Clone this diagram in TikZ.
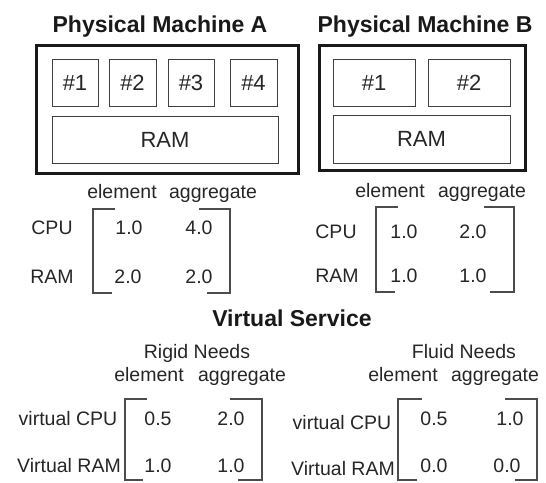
\documentclass[tikz,border=0pt]{standalone}
\usepackage{fontspec}
\setmainfont{Liberation Sans}
\begin{document}
\begin{tikzpicture}[x=1pt,y=-1pt,
  title/.style={font=\fontsize{23}{27}\selectfont\bfseries, anchor=base, inner sep=0pt, text=black!90},
  lbl/.style={font=\fontsize{19.5}{23}\selectfont, anchor=base, inner sep=0pt, text=black!85},
  machine/.style={draw=black!90, line width=3pt, inner sep=0pt},
  cell/.style={draw=black!75, line width=1pt, inner sep=0pt, font=\fontsize{22}{26}\selectfont, text=black!85},
  brk/.style={draw=black!70, line width=1.2pt}]
\useasboundingbox (0,0) rectangle (546,482);

% Physical Machine A
\node[title] (tA) at (160,32) {Physical Machine A};
\node[machine, minimum width=262pt, minimum height=128pt] (boxA) at (167,109) {};
\node[cell, minimum width=46pt, minimum height=47pt] (a1) at (75,82.5) {\#1};
\node[cell, minimum width=47pt, minimum height=47pt] (a2) at (132.5,82.5) {\#2};
\node[cell, minimum width=46pt, minimum height=47pt] (a3) at (191,82.5) {\#3};
\node[cell, minimum width=47pt, minimum height=47pt] (a4) at (253.5,82.5) {\#4};
\node[cell, minimum width=226pt, minimum height=47pt] (aram) at (165,139.5) {RAM};

% Physical Machine B
\node[title] (tB) at (425,32) {Physical Machine B};
\node[machine, minimum width=206pt, minimum height=125pt] (boxB) at (422,107.5) {};
\node[cell, minimum width=82pt, minimum height=47pt] (b1) at (374,82.5) {\#1};
\node[cell, minimum width=82pt, minimum height=47pt] (b2) at (469,82.5) {\#2};
\node[cell, minimum width=177pt, minimum height=48pt] (bram) at (421.5,139) {RAM};

% Matrix A
\node[lbl] (mAel) at (122,198) {element};
\node[lbl] (mAag) at (213,198) {aggregate};
\node[lbl] (mAcpu) at (52,234) {CPU};
\node[lbl] (mAram) at (52,283) {RAM};
\node[lbl] (mA11) at (129,234) {1.0};
\node[lbl] (mA12) at (199,234) {4.0};
\node[lbl] (mA21) at (128,283) {2.0};
\node[lbl] (mA22) at (199,283) {2.0};
\draw[brk] (115,209) -- (93,209) -- (93,293) -- (112,293);
\draw[brk] (199,209) -- (230,209) -- (230,293) -- (207,293);

% Matrix B
\node[lbl] (mBel) at (390,197) {element};
\node[lbl] (mBag) at (482,197) {aggregate};
\node[lbl] (mBcpu) at (336,238) {CPU};
\node[lbl] (mBram) at (337,282) {RAM};
\node[lbl] (mB11) at (404,238) {1.0};
\node[lbl] (mB12) at (473,238) {2.0};
\node[lbl] (mB21) at (404,282) {1.0};
\node[lbl] (mB22) at (473,282) {1.0};
\draw[brk] (398,207) -- (376,207) -- (376,292) -- (395,292);
\draw[brk] (484,207) -- (514,207) -- (514,292) -- (490,292);

% Virtual Service
\node[title] (tV) at (292,326) {Virtual Service};

% Rigid Needs
\node[lbl] (rT) at (197,358) {Rigid Needs};
\node[lbl] (rel) at (149,381) {element};
\node[lbl] (rag) at (242,381) {aggregate};
\node[lbl] (rcpu) at (68,425) {virtual CPU};
\node[lbl] (rram) at (69,472) {Virtual RAM};
\node[lbl] (r11) at (158,425) {0.5};
\node[lbl] (r12) at (231,425) {2.0};
\node[lbl] (r21) at (158,472) {1.0};
\node[lbl] (r22) at (231,472) {1.0};
\draw[brk] (147,399) -- (125,399) -- (125,480) -- (143,480);
\draw[brk] (230,399) -- (262,399) -- (262,480) -- (238,480);

% Fluid Needs
\node[lbl] (fT) at (464,358) {Fluid Needs};
\node[lbl] (fel) at (403,381) {element};
\node[lbl] (fag) at (495,381) {aggregate};
\node[lbl] (fcpu) at (342,429) {virtual CPU};
\node[lbl] (fram) at (343,475) {Virtual RAM};
\node[lbl] (f11) at (434,425) {0.5};
\node[lbl] (f12) at (510,425) {1.0};
\node[lbl] (f21) at (434,472) {0.0};
\node[lbl] (f22) at (507,472) {0.0};
\draw[brk] (422,399) -- (398,399) -- (398,480) -- (417,480);
\draw[brk] (505,399) -- (537,399) -- (537,480) -- (515,480);
\end{tikzpicture}
\end{document}
